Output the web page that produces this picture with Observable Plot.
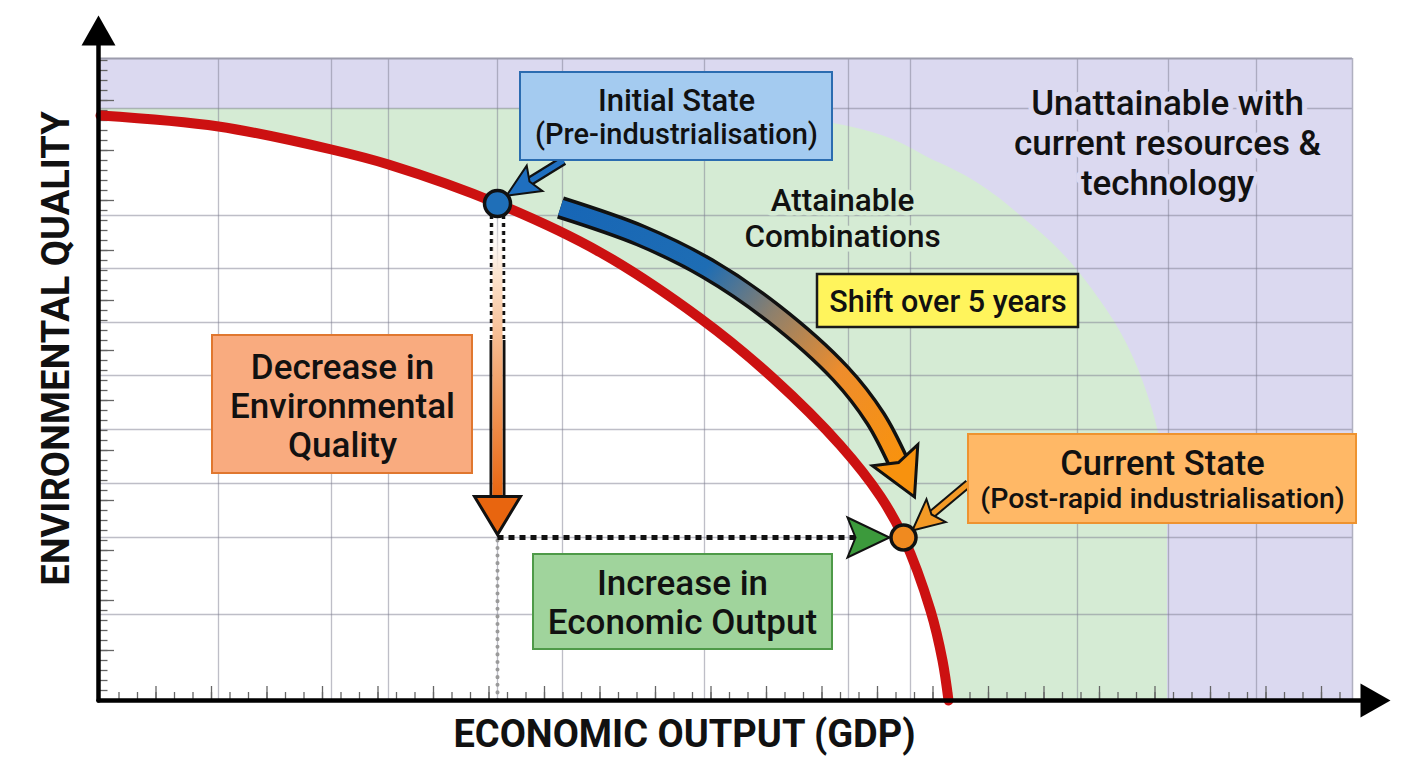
<!DOCTYPE html>
<html>
<head>
<meta charset="utf-8">
<script src="https://cdn.jsdelivr.net/npm/d3@7"></script>
<script src="https://cdn.jsdelivr.net/npm/@observablehq/plot@0.6"></script>
<style>
  html, body { margin: 0; padding: 0; background: #fff; }
  #chart svg { display: block; }
</style>
</head>
<body>
<div id="chart"></div>
<script>
// ---------- data (units: 10 px of the reference, origin at the axes' corner) ----------
// Production possibility frontier (red curve)
const ppfX = [0, 11.8, 23.1, 28.8, 39.7, 50.0, 60.0, 67.3, 74.0, 78.0, 80.3, 83.0, 84.2, 84.8];
const ppfY = [58.5, 57.4, 55.1, 53.6, 49.7, 44.8, 38.2, 32.2, 25.5, 20.4, 16.3, 9.0, 4.0, 0];

// Edge of the "attainable" (green) region
const attainY = [0, 19.0, 29.4, 39.1, 47.4, 53.8, 57.8, 59.2];
const attainX = [106.7, 106.7, 105.1, 100.6, 93.3, 83.8, 72.8, 61.0];

// Frame extent
const frameX = [0, 125.2];
const frameY = [0, 64.2];

// Grid lines
const gridX = [11.8, 23.1, 28.8, 39.7, 46.2, 60.4, 74.8, 81.0, 97.7, 106.8, 115.6];
const gridY = [59.2, 48.5, 43.2, 37.8, 32.5, 27.1, 21.7, 16.3, 8.6];

// States
const initialState = [{x: 39.7, y: 49.7}];
const currentState = [{x: 80.3, y: 16.3}];

// "Shift over 5 years" arrow path (ends at the arrow-head base)
const shiftX = [46.0, 54.0, 60.7, 67.3, 74.0, 77.5, 79.8];
const shiftY = [49.3, 46.5, 43.2, 38.7, 32.7, 28.2, 23.8];

// Callout pointers (start, arrow-head base)
const bluePointerX = [46.3, 42.9], bluePointerY = [54.0, 51.9];
const orangePointerX = [86.8, 83.1], orangePointerY = [21.7, 18.6];

// Vertical decrease arrow (top of shaft, where dotted edge ends, arrow-head base)
const dropTop = 48.5, dropDotEnd = 36.0, dropBase = 20.4;
// End of the horizontal increase arrow (arrow-head base)
const riseEnd = 75.5;

// Axes arrows (end of the shaft = arrow-head base)
const axisXEnd = 126.0, axisYEnd = 65.5;

// Boxes
const boxInitial  = {x1: 42.0, x2: 73.2, y1: 54.0, y2: 62.8};
const boxShift    = {x1: 71.7, x2: 97.8, y1: 37.3, y2: 42.6};
const boxDecrease = {x1: 11.2, x2: 37.2, y1: 22.7, y2: 36.5};
const boxIncrease = {x1: 43.3, x2: 73.2, y1: 5.1,  y2: 14.6};
const boxCurrent  = {x1: 86.8, x2: 125.6, y1: 17.7, y2: 26.6};

// Texts
const txtInitial1 = {x: 57.6, y: 60.1, text: "Initial State"};
const txtInitial2 = {x: 57.6, y: 56.7, text: "(Pre-industrialisation)"};
const txtShift    = {x: 84.75, y: 40.0, text: "Shift over 5 years"};
const txtDecrease = {x: 24.2, y: 29.5, text: "Decrease in\nEnvironmental\nQuality"};
const txtIncrease = {x: 58.2, y: 9.85, text: "Increase in\nEconomic Output"};
const txtCurrent1 = {x: 106.2, y: 23.8, text: "Current State"};
const txtCurrent2 = {x: 106.2, y: 20.3, text: "(Post-rapid industrialisation)"};
const txtAttain   = {x: 74.2, y: 48.3, text: "Attainable\nCombinations"};
const txtUnattain = {x: 106.7, y: 55.8, text: "Unattainable with\ncurrent resources &\ntechnology"};
const titleX = {x: 58.4, y: -3.4, text: "ECONOMIC OUTPUT (GDP)"};
const titleY = {x: -4.4, y: 35.2, text: "ENVIRONMENTAL QUALITY"};

// ---------- build ----------
const zip = (xs, ys) => xs.map((x, i) => ({x, y: ys[i]}));
const ppf = zip(ppfX, ppfY);
const attain = attainY.map((y, i) => ({y, x: attainX[i]}));
const shift = zip(shiftX, shiftY);
const bluePointer = zip(bluePointerX, bluePointerY);
const orangePointer = zip(orangePointerX, orangePointerY);
const ix = initialState[0].x, cy = currentState[0].y;
const dropShaft = [{x: ix, y: dropTop}, {x: ix, y: dropBase}];
const riseLine = [{x: ix, y: cy}, {x: riseEnd, y: cy}];
const tickYMinor = d3.range(1, 64.5, 1);
const tickYMajor = d3.range(5, 64.5, 5);
const tickXMinor = d3.range(1.85, 125, 1.85);
const tickXMajor = d3.range(5.55, 125, 5.55);

const FONT = "Roboto, 'Noto Sans', sans-serif";
const box = (b, fill, stroke, sw) =>
  Plot.rect([b], {x1: "x1", x2: "x2", y1: "y1", y2: "y2", fill, stroke, strokeWidth: sw});
const label = (t, size, opts = {}) =>
  Plot.text([t], {x: "x", y: "y", text: "text", fontSize: size, fill: "#111", fontWeight: 500, lineHeight: 1.15, ...opts});
const tag = (name) => ({ariaDescription: name});

const plot = Plot.plot({
  width: 1408,
  height: 768,
  marginLeft: 100, marginRight: 56, marginTop: 58, marginBottom: 68,
  x: {domain: frameX, axis: null},
  y: {domain: frameY, axis: null},
  style: {fontFamily: FONT, background: "#fff", overflow: "visible"},
  marks: [
    // regions
    Plot.rect([{}], {x1: () => frameX[0], x2: () => frameX[1], y1: () => frameY[0], y2: () => frameY[1], fill: "#dbd9f0"}),
    Plot.areaX(attain, {y: "y", x1: 0, x2: "x", fill: "#d5ebd4", curve: "monotone-y"}),
    Plot.areaY(ppf, {x: "x", y1: 0, y2: "y", fill: "#ffffff", curve: "catmull-rom"}),
    // grid
    Plot.ruleX(gridX, {stroke: "#7d7d90", strokeOpacity: 0.5, strokeWidth: 1.3}),
    Plot.ruleY(gridY, {stroke: "#7d7d90", strokeOpacity: 0.5, strokeWidth: 1.3}),
    Plot.ruleY([frameY[1]], {stroke: "#9c9cac", strokeWidth: 2}),
    Plot.ruleX([frameX[1]], {stroke: "#b0b0c0", strokeWidth: 1.5}),
    // ticks
    Plot.ruleY(tickYMinor, {x1: 0, x2: 0.75, stroke: "#666", strokeWidth: 1.3}),
    Plot.ruleY(tickYMajor, {x1: 0, x2: 1.4, stroke: "#666", strokeWidth: 1.3}),
    Plot.ruleX(tickXMinor, {y1: 0, y2: 0.8, stroke: "#666", strokeWidth: 1.3}),
    Plot.ruleX(tickXMajor, {y1: 0, y2: 1.4, stroke: "#666", strokeWidth: 1.3}),
    // frontier
    Plot.line(ppf, {x: "x", y: "y", stroke: "#cc1111", strokeWidth: 10, curve: "catmull-rom"}),
    // guides
    Plot.ruleX(initialState, {x: "x", y1: 0, y2: cy, stroke: "#9a9a9a", strokeWidth: 4, strokeDasharray: "0.1,7.5", strokeLinecap: "round"}),
    Plot.line(riseLine, {x: "x", y: "y", stroke: "#111", strokeWidth: 5, strokeDasharray: "6,5", strokeLinecap: "butt", ...tag("rise-arrow")}),
    // vertical decrease arrow
    Plot.ruleX([ix - 0.6, ix + 0.6], {y1: dropTop, y2: dropDotEnd, stroke: "#111", strokeWidth: 3.5, strokeDasharray: "4,4"}),
    Plot.ruleX([ix - 0.65, ix + 0.65], {y1: dropDotEnd, y2: dropBase, stroke: "#111", strokeWidth: 3}),
    Plot.line(dropShaft, {x: "x", y: "y", stroke: "url(#gDrop)", strokeWidth: 10, strokeLinecap: "butt", ...tag("drop-arrow")}),
    // shift arrow
    Plot.line(shift, {x: "x", y: "y", stroke: "#111", strokeWidth: 23, strokeLinecap: "butt", curve: "catmull-rom"}),
    Plot.line(shift, {x: "x", y: "y", stroke: "url(#gShift)", strokeWidth: 16, strokeLinecap: "butt", curve: "catmull-rom", ...tag("shift-arrow")}),
    // pointers
    Plot.line(bluePointer, {x: "x", y: "y", stroke: "#111", strokeWidth: 10, strokeLinecap: "butt"}),
    Plot.line(bluePointer, {x: "x", y: "y", stroke: "#1f6fbf", strokeWidth: 5.5, strokeLinecap: "butt", ...tag("blue-pointer")}),
    Plot.line(orangePointer, {x: "x", y: "y", stroke: "#111", strokeWidth: 9, strokeLinecap: "butt"}),
    Plot.line(orangePointer, {x: "x", y: "y", stroke: "#f39a26", strokeWidth: 5, strokeLinecap: "butt", ...tag("orange-pointer")}),
    // states
    Plot.dot(initialState, {x: "x", y: "y", r: 13, fill: "#1f6fb8", stroke: "#111", strokeWidth: 3.5}),
    Plot.dot(currentState, {x: "x", y: "y", r: 12.5, fill: "#f08a1f", stroke: "#111", strokeWidth: 3.5}),
    // region labels
    label(txtAttain, 31.5, {stroke: "#d5ebd4", strokeWidth: 9}),
    label(txtUnattain, 35, {stroke: "#dbd9f0", strokeWidth: 10, lineHeight: 1.14}),
    // boxes
    box(boxInitial, "#a4cbf0", "#2b6cb0", 2),
    label(txtInitial1, 31),
    label(txtInitial2, 29),
    box(boxShift, "#fff45c", "#1a1a1a", 2.5),
    label(txtShift, 30.5),
    box(boxDecrease, "#f9ab7f", "#e0772f", 2),
    label(txtDecrease, 35, {lineHeight: 1.12}),
    box(boxIncrease, "#a0d49c", "#4e9a48", 2),
    label(txtIncrease, 35, {lineHeight: 1.11}),
    box(boxCurrent, "#ffb866", "#ee9330", 2),
    label(txtCurrent1, 34.5),
    label(txtCurrent2, 28.5),
    // axes
    Plot.line([{x: -0.2, y: 0}, {x: axisXEnd, y: 0}], {x: "x", y: "y", stroke: "#000", strokeWidth: 4.5, ...tag("axis-x")}),
    Plot.line([{x: -0.2, y: 0}, {x: -0.2, y: axisYEnd}], {x: "x", y: "y", stroke: "#000", strokeWidth: 4.5, ...tag("axis-y")}),
    Plot.text([titleX], {x: "x", y: "y", text: "text", fontSize: 38, fontWeight: 700, fill: "#111"}),
    Plot.text([titleY], {x: "x", y: "y", text: "text", fontSize: 38, fontWeight: 700, fill: "#111", rotate: -90})
  ]
});

document.getElementById("chart").appendChild(plot);

// ---------- defs: gradients and arrow-head markers ----------
const svg = d3.select(plot);
const defs = svg.insert("defs", ":first-child");
const sx = plot.scale("x"), sy = plot.scale("y");

function gradient(id, p0, p1, stops) {
  const g = defs.append("linearGradient").attr("id", id).attr("gradientUnits", "userSpaceOnUse")
    .attr("x1", sx.apply(p0.x)).attr("y1", sy.apply(p0.y))
    .attr("x2", sx.apply(p1.x)).attr("y2", sy.apply(p1.y));
  for (const [o, c, a] of stops) g.append("stop").attr("offset", o).attr("stop-color", c).attr("stop-opacity", a ?? 1);
}
gradient("gShift", shift[0], shift[shift.length - 1],
  [[0, "#1766b6"], [0.36, "#1e6db4"], [0.55, "#8e806c"], [0.76, "#ee8d2c"], [1, "#f8920e"]]);
gradient("gDrop", dropShaft[0], dropShaft[1],
  [[0, "#ffffff", 0], [0.2, "#fde6d2"], [0.45, "#f6b98c"], [1, "#e8650f"]]);

function marker(id, {len, w, notch = 0, fill, stroke = "none", sw = 0}) {
  const pad = 8;
  const m = defs.append("marker").attr("id", id)
    .attr("markerUnits", "userSpaceOnUse").attr("orient", "auto")
    .attr("viewBox", `${-notch - pad} ${-w / 2 - pad} ${len + notch + 2 * pad} ${w + 2 * pad}`)
    .attr("markerWidth", len + notch + 2 * pad).attr("markerHeight", w + 2 * pad)
    .attr("refX", 0).attr("refY", 0).style("overflow", "visible");
  const d = notch
    ? `M${-notch},${-w / 2}L${len},0L${-notch},${w / 2}L0,0Z`
    : `M0,${-w / 2}L${len},0L0,${w / 2}Z`;
  m.append("path").attr("d", d).attr("fill", fill).attr("stroke", stroke)
    .attr("stroke-width", sw).attr("stroke-linejoin", "miter").attr("stroke-miterlimit", 10)
    .attr("stroke-dasharray", "none");
}
marker("mShift", {len: 38, w: 50, notch: 8, fill: "#f8920e", stroke: "#111", sw: 3});
marker("mDrop", {len: 38, w: 46, fill: "#e8650f", stroke: "#111", sw: 3});
marker("mBlue", {len: 27, w: 30, notch: 6, fill: "#1f6fbf", stroke: "#111", sw: 2});
marker("mOrange", {len: 25, w: 30, notch: 6, fill: "#f39a26", stroke: "#111", sw: 2});
marker("mGreen", {len: 34, w: 40, notch: 8, fill: "#3c9a3c", stroke: "#111", sw: 2});
marker("mAxis", {len: 30, w: 34, fill: "#000"});

const setMarker = (name, id) =>
  svg.selectAll(`g[aria-description="${name}"] path`).attr("marker-end", `url(#${id})`);
setMarker("shift-arrow", "mShift");
setMarker("drop-arrow", "mDrop");
setMarker("blue-pointer", "mBlue");
setMarker("orange-pointer", "mOrange");
setMarker("rise-arrow", "mGreen");
setMarker("axis-x", "mAxis");
setMarker("axis-y", "mAxis");
</script>
</body>
</html>
